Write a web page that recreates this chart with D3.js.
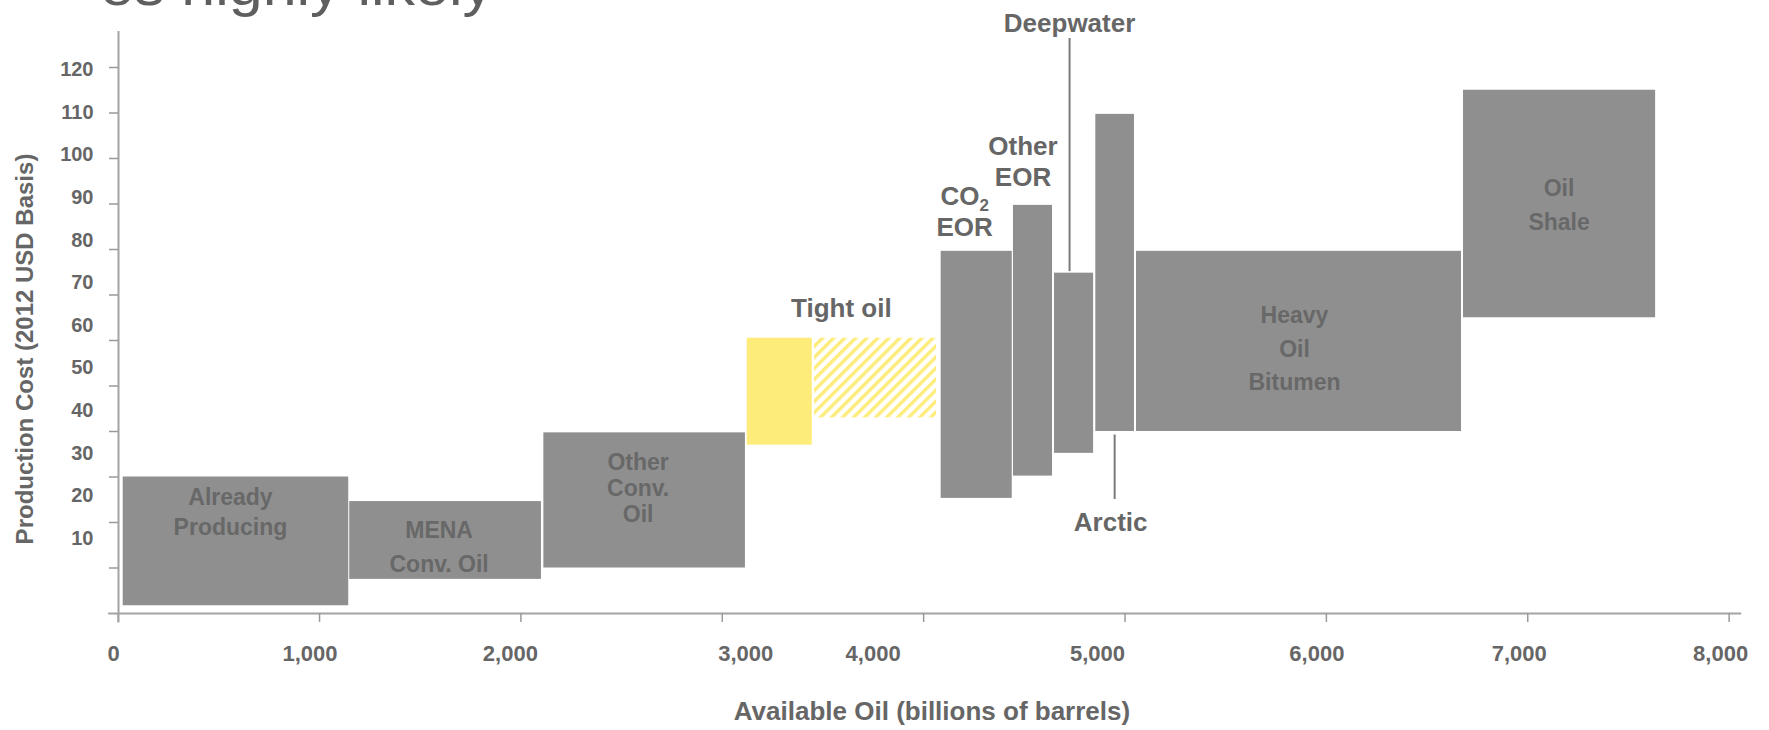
<!DOCTYPE html>
<html>
<head>
<meta charset="utf-8">
<script src="https://cdn.jsdelivr.net/npm/d3@7"></script>
<style>
  body { margin: 0; background: #fff; }
  text { font-family: "Liberation Sans", Arial, sans-serif; }
</style>
</head>
<body>
<script>
// oil supply cost curve (billions of barrels vs 2012 USD)
const categories = ["Already Producing", "MENA Conv. Oil", "Other Conv. Oil", "Tight oil", "Tight oil (hatched)",
  "CO2 EOR", "Other EOR", "Deepwater", "Arctic", "Heavy Oil Bitumen", "Oil Shale"];
const volStart = [25, 1150, 2114, 3124, 3458, 4087, 4446, 4650, 4855, 5057, 6681];
const volEnd   = [1145, 2102, 3115, 3447, 4064, 4440, 4640, 4844, 5047, 6671, 7635];
const costLow  = [1.7, 7.5, 10, 37, 43, 25.3, 30.2, 35.2, 40, 40, 65];
const costHigh = [30, 24.6, 39.7, 60.5, 60.5, 79.6, 89.7, 74.8, 109.7, 79.6, 115];
const hatched  = [false, false, false, false, true, false, false, false, false, false, false];
const yellow   = [false, false, false, true, true, false, false, false, false, false, false];

const xTicks = [0, 1000, 2000, 3000, 4000, 5000, 6000, 7000, 8000];
const xTickLabels = ["0", "1,000", "2,000", "3,000", "4,000", "5,000", "6,000", "7,000", "8,000"];
const yTicks = [10, 20, 30, 40, 50, 60, 70, 80, 90, 100, 110, 120];
const yTickLabels = ["10", "20", "30", "40", "50", "60", "70", "80", "90", "100", "110", "120"];

const width = 1769;
const height = 730;

const svg = d3.select("body").append("svg")
  .attr("width", width)
  .attr("height", height);

const defs = svg.append("defs");
defs.append("pattern")
  .attr("id", "hatch")
  .attr("patternUnits", "userSpaceOnUse")
  .attr("width", 7.8)
  .attr("height", 7.8)
  .attr("patternTransform", "rotate(45)")
  .append("line")
  .attr("x1", 1.7).attr("y1", 0)
  .attr("x2", 1.7).attr("y2", 7.8)
  .attr("stroke", "#fdec7a")
  .attr("stroke-width", 3.4);

const x = d3.scaleLinear().domain([-50, 8060]).range([107.6, 1740.7]);
const y = d3.scaleLinear().domain([-2, 128]).range([622.1, 30.6]);
// the tick labels on the left sit on their own, slightly tighter spacing
const yLab = d3.scaleLinear().domain([10, 120]).range([545, 76]);

// slide title, mostly cut off at the top
svg.append("text")
  .attr("x", 100)
  .attr("y", 5)
  .attr("font-size", 58)
  .attr("textLength", 393)
  .attr("lengthAdjust", "spacingAndGlyphs")
  .attr("fill", "#5f5f5f")
  .text("es highly likely");

// bars
const bars = d3.range(categories.length);
svg.append("g")
  .selectAll("rect")
  .data(bars)
  .join("rect")
  .attr("x", i => x(volStart[i]))
  .attr("width", i => x(volEnd[i]) - x(volStart[i]))
  .attr("y", i => y(costHigh[i]))
  .attr("height", i => y(costLow[i]) - y(costHigh[i]))
  .attr("fill", i => hatched[i] ? "url(#hatch)" : (yellow[i] ? "#fdec7a" : "#8f8f8f"));

// axes
const xAxis = svg.append("g")
  .attr("transform", `translate(0,${y(0)})`)
  .call(d3.axisBottom(x).tickValues(xTicks).tickSize(9).tickSizeOuter(0).tickFormat(""));
const yAxis = svg.append("g")
  .attr("transform", "translate(118,0)")
  .call(d3.axisLeft(y).tickValues(yTicks).tickSize(9).tickSizeOuter(0).tickFormat(""));
[xAxis, yAxis].forEach(g => {
  g.select(".domain").attr("stroke", "#a3a3a3").attr("stroke-width", 2);
  g.selectAll(".tick line").attr("stroke", "#9a9a9a").attr("stroke-width", 1.5);
});

// tick labels (hand placed in the original, so nudged a bit)
const xLabelNudge = [-4, -9, -10, 24, -50, -27, -9, -8, -8];
svg.append("g")
  .selectAll("text")
  .data(xTicks)
  .join("text")
  .attr("x", (d, i) => x(d) + xLabelNudge[i])
  .attr("y", 661)
  .attr("text-anchor", "middle")
  .attr("font-size", 22)
  .attr("font-weight", "bold")
  .attr("fill", "#666")
  .text((d, i) => xTickLabels[i]);

svg.append("g")
  .selectAll("text")
  .data(yTicks)
  .join("text")
  .attr("x", 93.5)
  .attr("y", d => yLab(d))
  .attr("text-anchor", "end")
  .attr("font-size", 20)
  .attr("font-weight", "bold")
  .attr("fill", "#666")
  .text((d, i) => yTickLabels[i]);

// axis titles
svg.append("text")
  .attr("x", 932)
  .attr("y", 720)
  .attr("text-anchor", "middle")
  .attr("font-size", 26)
  .attr("font-weight", "bold")
  .attr("fill", "#666")
  .text("Available Oil (billions of barrels)");

svg.append("text")
  .attr("transform", "translate(33,349) rotate(-90)")
  .attr("text-anchor", "middle")
  .attr("font-size", 24)
  .attr("font-weight", "bold")
  .attr("fill", "#666")
  .text("Production Cost (2012 USD Basis)");

// labels inside the bars
const midX = i => (x(volStart[i]) + x(volEnd[i])) / 2;
const inside = [
  { i: 0, lines: ["Already", "Producing"], dx: -5, dy: 28, lh: 30 },
  { i: 1, lines: ["MENA", "Conv. Oil"], dx: -6, dy: 37, lh: 33.5 },
  { i: 2, lines: ["Other", "Conv.", "Oil"], dx: -6, dy: 37.5, lh: 26 },
  { i: 9, lines: ["Heavy", "Oil", "Bitumen"], dx: -4, dy: 72.5, lh: 33.5 },
  { i: 10, lines: ["Oil", "Shale"], dx: 0, dy: 106, lh: 34 }
];
inside.forEach(l => {
  const t = svg.append("text")
    .attr("text-anchor", "middle")
    .attr("font-size", 23)
    .attr("font-weight", "bold")
    .attr("fill", "#686868");
  l.lines.forEach((s, k) => {
    t.append("tspan")
      .attr("x", midX(l.i) + l.dx)
      .attr("y", y(costHigh[l.i]) + l.dy + k * l.lh)
      .text(s);
  });
});

// labels outside the bars
const outLabel = (tx, ty, s) => svg.append("text")
  .attr("x", tx)
  .attr("y", ty)
  .attr("text-anchor", "middle")
  .attr("font-size", 26)
  .attr("font-weight", "bold")
  .attr("fill", "#666")
  .text(s);

outLabel((x(volStart[3]) + x(volEnd[4])) / 2, y(costHigh[3]) - 21, "Tight oil");

const co2 = svg.append("text")
  .attr("x", midX(5) - 11.5)
  .attr("y", y(costHigh[5]) - 46)
  .attr("text-anchor", "middle")
  .attr("font-size", 26)
  .attr("font-weight", "bold")
  .attr("fill", "#666");
co2.append("tspan").text("CO");
co2.append("tspan").attr("font-size", 17).attr("dy", 6.5).text("2");
outLabel(midX(5) - 11.5, y(costHigh[5]) - 14.5, "EOR");

outLabel(midX(6) - 9.5, y(costHigh[6]) - 50, "Other");
outLabel(midX(6) - 9.5, y(costHigh[6]) - 19, "EOR");

// leader lines for Deepwater and Arctic
const dwX = midX(7) - 4;
svg.append("line")
  .attr("x1", dwX).attr("x2", dwX)
  .attr("y1", 38).attr("y2", y(costHigh[7]) - 1.5)
  .attr("stroke", "#7a7a7a").attr("stroke-width", 2);
outLabel(dwX, 31.7, "Deepwater");

const arX = midX(8);
svg.append("line")
  .attr("x1", arX).attr("x2", arX)
  .attr("y1", y(costLow[8]) + 3.5).attr("y2", 499)
  .attr("stroke", "#7a7a7a").attr("stroke-width", 2);
outLabel(arX - 4, 530.7, "Arctic");
</script>
</body>
</html>
